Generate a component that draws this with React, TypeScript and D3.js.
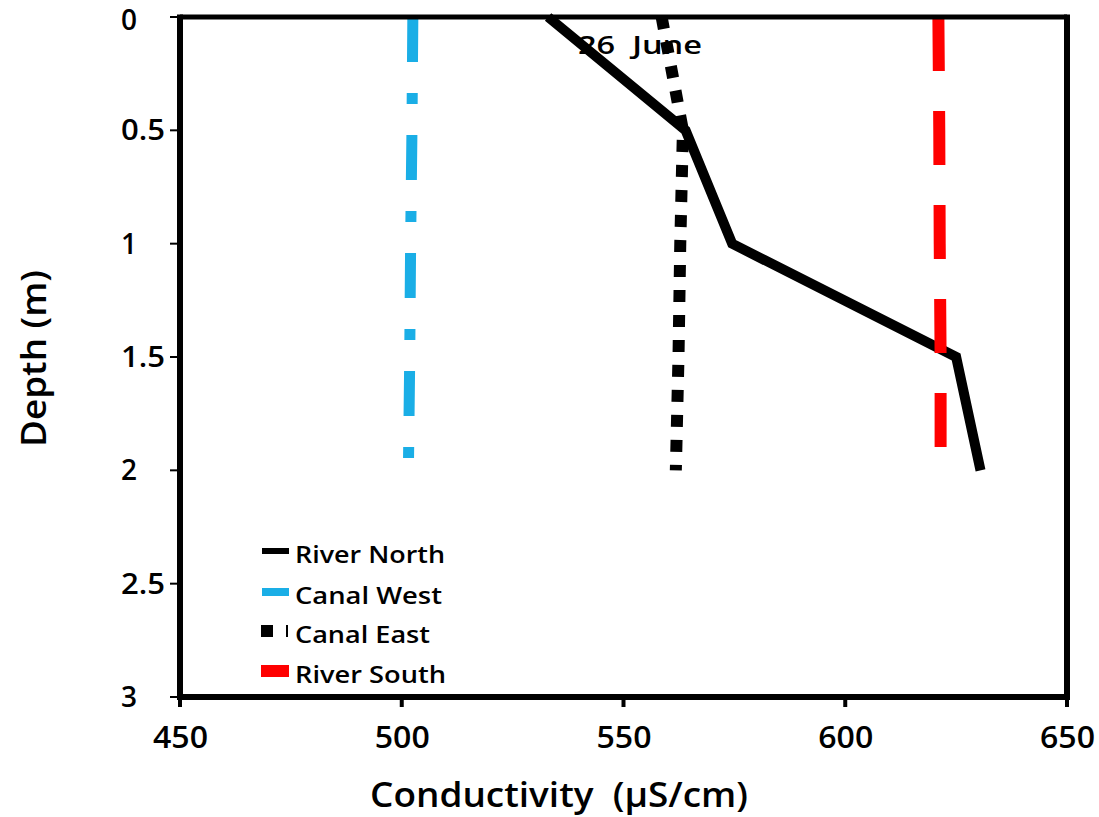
import React from "react";
import * as d3 from "d3";

const depths = [0, 0.5, 1, 1.5, 2];
const riverNorth = [533, 564, 574.5, 625, 630.5];
const canalWest = [502.5, 502.3, 502, 501.8, 501.5];
const canalEast = [558.6, 563.4, 562.8, 562.4, 561.8];
const riverSouth = [621, 621.2, 621.3, 621.5, 621.5];

const xTicks = [450, 500, 550, 600, 650];
const yTicks = [0, 0.5, 1, 1.5, 2, 2.5, 3];
const yTickLabels = ["0", "0.5", "1", "1.5", "2", "2.5", "3"];

const seriesNames = ["River North", "Canal West", "Canal East", "River South"];
const legendTextWidths = [150, 147, 135, 151];

const W = 1099;
const H = 817;
const FONT = "'Open Sans', 'DejaVu Sans', sans-serif";

export default function App() {
  const x = d3.scaleLinear().domain([450, 650]).range([180, 1067]);
  const y = d3.scaleLinear().domain([0, 3]).range([17, 697]);

  const mk = (vals: number[]) =>
    d3
      .line<number>()
      .x((v) => x(v))
      .y((_, i) => y(depths[i]))(vals) as string;

  const series = [
    { name: seriesNames[0], vals: riverNorth, color: "#000000", width: 10, dash: undefined as string | undefined },
    { name: seriesNames[1], vals: canalWest, color: "#1AAEE6", width: 11, dash: "45 31 11 31" },
    { name: seriesNames[2], vals: canalEast, color: "#000000", width: 12, dash: "12 13" },
    { name: seriesNames[3], vals: riverSouth, color: "#FF0000", width: 12, dash: "54 40" },
  ];

  const legendY = [551, 592, 631, 671];

  return (
    <svg
      width={W}
      height={H}
      style={{ position: "absolute", left: 0, top: 0, background: "#fff" }}
      fontFamily={FONT}
    >
      <rect x={0} y={0} width={W} height={H} fill="#fff" />
      {/* annotation */}
      <text x={578} y={54} fontSize={26} fontWeight={600} fill="#000" textLength={124} lengthAdjust="spacingAndGlyphs">
        {"26\u00A0\u00A0June"}
      </text>

      {/* series */}
      {series.map((s) => (
        <path
          key={s.name}
          d={mk(s.vals)}
          fill="none"
          stroke={s.color}
          strokeWidth={s.width}
          strokeDasharray={s.dash}
          strokeLinecap="butt"
          strokeLinejoin="miter"
        />
      ))}

      {/* frame */}
      <line x1={x(450)} x2={x(650)} y1={y(0)} y2={y(0)} stroke="#000" strokeWidth={5} />
      <line x1={x(650)} x2={x(650)} y1={y(0) - 2.5} y2={y(3)} stroke="#000" strokeWidth={6} />
      <line x1={x(450)} x2={x(450)} y1={y(0) - 2.5} y2={y(3) + 3} stroke="#000" strokeWidth={6} />
      <line x1={x(450) - 3} x2={x(650) + 3} y1={y(3)} y2={y(3)} stroke="#000" strokeWidth={6} />

      {/* y ticks */}
      {yTicks.map((t, i) => (
        <g key={"y" + t}>
          <line x1={x(450) - 10} x2={x(450)} y1={y(t)} y2={y(t)} stroke="#000" strokeWidth={2} />
          <text
            x={121}
            y={y(t) + (i === 0 ? 13 : 10)}
            fontSize={28}
            fontWeight={600}
            fill="#000"
            textLength={yTickLabels[i].length > 1 ? 44 : undefined}
            lengthAdjust="spacingAndGlyphs"
          >
            {yTickLabels[i]}
          </text>
        </g>
      ))}

      {/* x ticks */}
      {xTicks.map((t) => (
        <g key={"x" + t}>
          <line x1={x(t)} x2={x(t)} y1={y(3)} y2={y(3) + 10} stroke="#000" strokeWidth={4} />
          <text
            x={x(t) - 27}
            y={748}
            fontSize={30}
            fontWeight={600}
            fill="#000"
            textLength={55}
            lengthAdjust="spacingAndGlyphs"
          >
            {t}
          </text>
        </g>
      ))}

      {/* axis titles */}
      <text x={370} y={807} fontSize={34} fontWeight={600} fill="#000" textLength={378} lengthAdjust="spacingAndGlyphs">
        {"Conductivity\u00A0\u00A0(\u00B5S/cm)"}
      </text>
      <text
        transform={`translate(46,447) rotate(-90)`}
        fontSize={34}
        fontWeight={600}
        fill="#000"
        textLength={177}
        lengthAdjust="spacingAndGlyphs"
      >
        Depth (m)
      </text>

      {/* legend */}
      <line x1={262} x2={289} y1={legendY[0]} y2={legendY[0]} stroke="#000" strokeWidth={6} />
      <line x1={262} x2={289} y1={legendY[1]} y2={legendY[1]} stroke="#1AAEE6" strokeWidth={8} />
      <line x1={261} x2={288} y1={legendY[2]} y2={legendY[2]} stroke="#000" strokeWidth={12} strokeDasharray="12 13" />
      <line x1={261} x2={289} y1={legendY[3]} y2={legendY[3]} stroke="#FF0000" strokeWidth={12} />
      {seriesNames.map((n, i) => (
        <text
          key={n}
          x={295}
          y={legendY[i] + 12}
          fontSize={23}
          fontWeight={600}
          fill="#000"
          textLength={legendTextWidths[i]}
          lengthAdjust="spacingAndGlyphs"
        >
          {n}
        </text>
      ))}
    </svg>
  );
}
